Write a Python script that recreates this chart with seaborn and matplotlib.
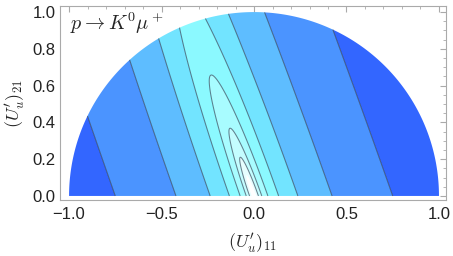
import numpy as np
import seaborn as sns
import matplotlib.pyplot as plt
from matplotlib.ticker import MultipleLocator

sns.set_style('white')
plt.rcParams['font.family'] = ['Liberation Sans', 'DejaVu Sans']
plt.rcParams['mathtext.fontset'] = 'cm'

# contour lines: half-width where each level crosses (U'_u)_21 = 0
level_halfwidths = [0.013, 0.024, 0.042, 0.075, 0.133, 0.237, 0.422, 0.75]
# valley direction and curvature along it
valley_slope = 0.35
valley_rise = 0.013
band_colors = ['#ffffff', '#e6feff', '#c4fdff', '#a8fcff', '#8bf9ff',
               '#72e4ff', '#5ebdff', '#4b94ff', '#3366ff']
title_text = r'$p \rightarrow K^0 \mu^+$'
x_label = r"$(U_u')_{11}$"
y_label = r"$(U_u')_{21}$"

# half disk on a polar mesh so the rim stays smooth
r = np.linspace(0, 1, 400)
th = np.linspace(0, np.pi, 600)
R, TH = np.meshgrid(r, th)
X = R * np.cos(TH)
Y = R * np.sin(TH)
Z = (X + valley_slope * Y) ** 2 + valley_rise * Y ** 2

levels = [0] + [w ** 2 for w in level_halfwidths] + [Z.max() + 1]

fig = plt.figure(figsize=(4.53, 2.56), dpi=100)
ax = fig.add_axes([60 / 453, 1 - 200 / 256, 386 / 453, 194 / 256])

ax.contourf(X, Y, Z, levels=levels, colors=band_colors, antialiased=True)
# innermost white patch has no outline
ax.contour(X, Y, Z, levels=levels[2:-1], colors='#2c3e50', linewidths=0.75, alpha=0.65)

ax.set_xlim(-1.049, 1.038)
ax.set_ylim(-0.022, 1.033)
ax.xaxis.set_major_locator(MultipleLocator(0.5))
ax.xaxis.set_minor_locator(MultipleLocator(0.1))
ax.yaxis.set_major_locator(MultipleLocator(0.2))
ax.yaxis.set_minor_locator(MultipleLocator(0.05))
ax.xaxis.set_major_formatter(plt.FuncFormatter(lambda v, p: f'{v:.1f}'.replace('-', '\u2212')))
ax.yaxis.set_major_formatter(plt.FuncFormatter(lambda v, p: f'{v:.1f}'))
ax.tick_params(which='both', direction='in', top=True, right=True, colors='#aaaaaa',
               labelcolor='#222222', labelsize=12)
ax.tick_params(which='major', length=4, width=0.8)
ax.tick_params(which='minor', length=2, width=0.6)
ax.tick_params(axis='x', pad=5)
ax.tick_params(axis='y', pad=3)
ax.tick_params(top=True, right=True, labeltop=False, labelright=False, which='both')
for s in ax.spines.values():
    s.set_color('#aaaaaa')
    s.set_linewidth(0.8)

ax.set_xlabel(x_label, fontsize=13, labelpad=7)
ax.set_ylabel(y_label, fontsize=13, labelpad=4)
ax.text(0.026, 0.975, title_text, transform=ax.transAxes, fontsize=14.5, va='top', ha='left')

fig.savefig('out.png', dpi=100)
